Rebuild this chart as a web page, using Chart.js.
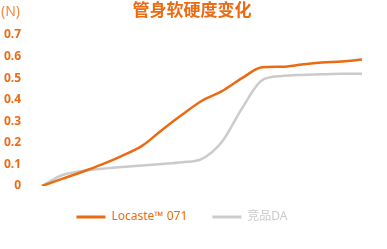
<!DOCTYPE html>
<html>
<head>
<meta charset="utf-8">
<script src="https://cdn.jsdelivr.net/npm/chart.js@4"></script>
<style>
  html, body { margin: 0; padding: 0; background: #fff; }
  #wrap { width: 387px; height: 249px; position: relative; }
</style>
</head>
<body>
<div id="wrap"><canvas id="c"></canvas></div>
<script>
// data
const steps = ['0','1','2','3','4','5','6','7','8','9','10','11','12','13','14','15','16'];
const locaste = [0, 0.033, 0.065, 0.10, 0.14, 0.186, 0.26, 0.33, 0.395, 0.44, 0.50, 0.55, 0.553, 0.563, 0.572, 0.577, 0.586];
const rival = [0, 0.05, 0.07, 0.08, 0.088, 0.095, 0.102, 0.11, 0.126, 0.205, 0.36, 0.49, 0.51, 0.515, 0.518, 0.52, 0.52];
const seriesNames = ['Locaste™ 071', '竞品DA'];
const yTicks = [0, 0.1, 0.2, 0.3, 0.4, 0.5, 0.6, 0.7];

const ORANGE = '#EC6A12';
const GRAY = '#CBCBCB';
const FONT = '"Noto Sans", "Noto Sans CJK SC", sans-serif';

const headerPlugin = {
  id: 'header',
  afterDraw(chart) {
    const ctx = chart.ctx;
    ctx.save();
    ctx.textBaseline = 'middle';
    ctx.fillStyle = ORANGE;
    ctx.font = 'bold 17px "Noto Sans CJK SC", sans-serif';
    ctx.textAlign = 'center';
    ctx.fillText('管身软硬度变化', 192, 10);
    ctx.fillStyle = '#F08A42';
    ctx.font = '14px ' + FONT;
    ctx.textAlign = 'left';
    ctx.fillText('(N)', 1, 12);
    ctx.restore();
  }
};

new Chart(document.getElementById('c'), {
  type: 'line',
  data: {
    labels: steps,
    datasets: [
      { label: seriesNames[0], data: locaste, borderColor: ORANGE, backgroundColor: ORANGE,
        borderWidth: 2.5, pointRadius: 0, tension: 0.4, cubicInterpolationMode: 'monotone' },
      { label: seriesNames[1], data: rival, borderColor: GRAY, backgroundColor: GRAY,
        borderWidth: 2.5, pointRadius: 0, tension: 0.4, cubicInterpolationMode: 'monotone' }
    ]
  },
  options: {
    responsive: true,
    maintainAspectRatio: false,
    animation: false,
    layout: { padding: { left: 2, right: 25, top: 35, bottom: 16 } },
    scales: {
      x: { display: false, offset: false },
      y: {
        min: 0, max: 0.7,
        afterBuildTicks(axis) { axis.ticks = yTicks.map(v => ({ value: v })); },
        afterFit(axis) { axis.width = 40; },
        grid: { display: false, drawTicks: false },
        border: { display: false },
        ticks: {
          padding: 21,
          color: ORANGE,
          font: { family: FONT, size: 12, weight: 'bold' },
          callback: v => (v === 0 ? '0' : v.toFixed(1))
        }
      }
    },
    plugins: {
      tooltip: { enabled: false },
      legend: {
        position: 'bottom',
        labels: {
          boxWidth: 29,
          boxHeight: 3,
          padding: 25,
          font: { family: FONT, size: 12 },
          generateLabels(chart) {
            return chart.data.datasets.map((ds, i) => ({
              text: ds.label,
              fillStyle: ds.borderColor,
              strokeStyle: ds.borderColor,
              lineWidth: 0,
              fontColor: ds.borderColor,
              datasetIndex: i,
              hidden: false
            }));
          }
        }
      }
    }
  },
  plugins: [headerPlugin]
});
</script>
</body>
</html>
